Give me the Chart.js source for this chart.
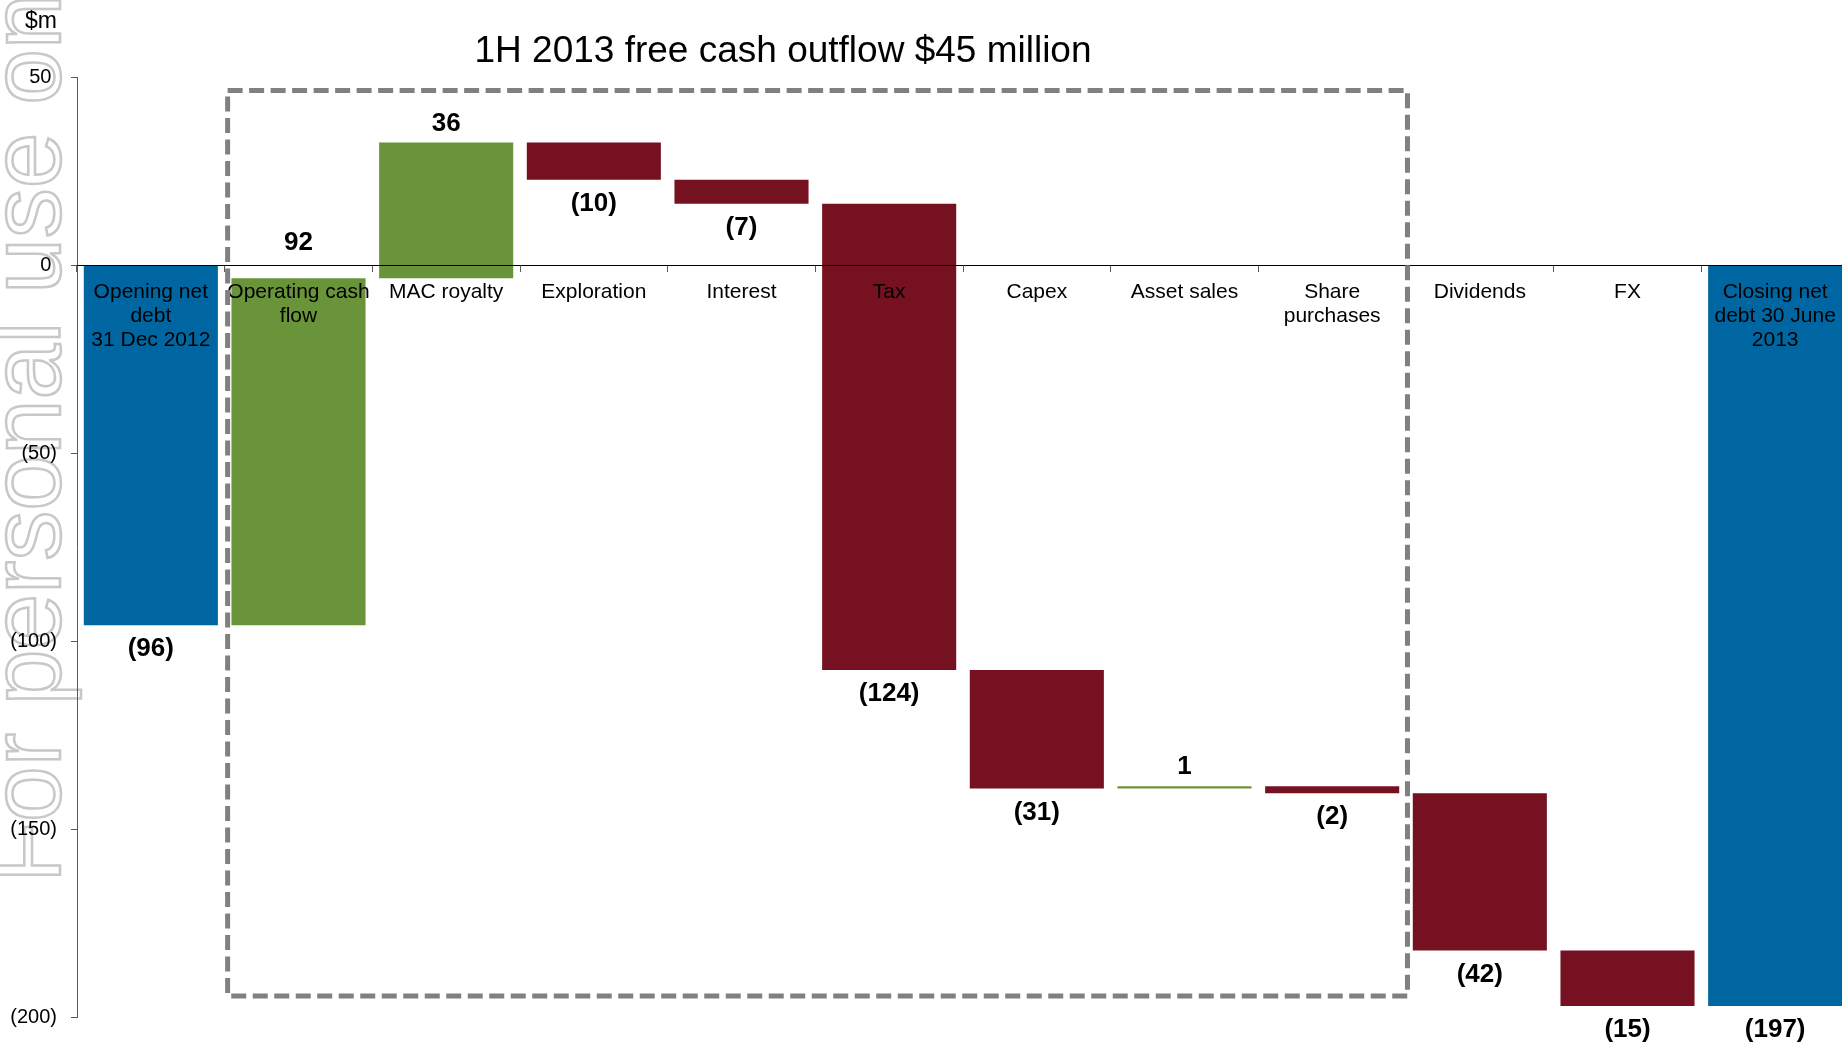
<!DOCTYPE html>
<html>
<head>
<meta charset="utf-8">
<script src="https://cdn.jsdelivr.net/npm/chart.js@4.4.1/dist/chart.umd.min.js"></script>
<style>
  html, body { margin: 0; padding: 0; background: #ffffff; overflow: hidden; }
  #wrap { width: 1849px; height: 1043px; }
</style>
</head>
<body>
<div id="wrap"><canvas id="c" width="1849" height="1043"></canvas></div>
<script>
// ---- data ----
const categories = [
  ['Opening net', 'debt', '31 Dec 2012'],
  ['Operating cash', 'flow'],
  'MAC royalty',
  'Exploration',
  'Interest',
  'Tax',
  'Capex',
  'Asset sales',
  ['Share', 'purchases'],
  'Dividends',
  'FX',
  ['Closing net', 'debt 30 June', '2013']
];
const barStart = [0, -95.8, -3.5, 32.6, 22.7, 16.3, -107.7, -139.2, -138.6, -140.5, -182.3, 0];
const barEnd   = [-95.8, -3.5, 32.6, 22.7, 16.3, -107.7, -139.2, -138.6, -140.5, -182.3, -197.1, -197.1];
const valueLabels = [-96, 92, 36, -10, -7, -124, -31, 1, -2, -42, -15, -197];
const barKind = ['total', 'up', 'up', 'down', 'down', 'down', 'down', 'up', 'down', 'down', 'down', 'total'];
const yMin = -200, yMax = 50, yStep = 50;
const chartTitle = '1H 2013 free cash outflow $45 million';
const unitLabel = '$m';
const watermarkText = 'For personal use only';

// ---- styling ----
const FONT = '"Liberation Sans", Arial, Helvetica, sans-serif';
const kindColor = { total: '#0066a1', up: '#6a943a', down: '#761122' };
const fmt = v => v < 0 ? '(' + Math.abs(v) + ')' : String(v);
// free-cash-flow box (in scale units: category index / $m)
const BOX = { xFrom: 0.52, xTo: 8.51, yTop: 46.4, yBottom: -194.4 };

const overlay = {
  id: 'overlay',
  beforeDraw(chart) {
    const ctx = chart.ctx;
    ctx.save();
    ctx.translate(60, 883);
    ctx.rotate(-Math.PI / 2);
    ctx.font = '100px ' + FONT;
    ctx.textAlign = 'left';
    ctx.textBaseline = 'alphabetic';
    ctx.strokeStyle = '#c8c8c8';
    ctx.lineWidth = 2.5;
    ctx.strokeText(watermarkText, 0, 0);
    ctx.restore();
  },
  afterDatasetsDraw(chart) {
    const ctx = chart.ctx;
    const ys = chart.scales.y;
    const meta = chart.getDatasetMeta(0);
    const zero = ys.getPixelForValue(0);
    ctx.save();
    ctx.font = 'bold 26px ' + FONT;
    ctx.fillStyle = '#000';
    ctx.textAlign = 'center';
    ctx.textBaseline = 'middle';
    valueLabels.forEach((v, i) => {
      const el = meta.data[i];
      const hi = ys.getPixelForValue(Math.max(barStart[i], barEnd[i]));
      const lo = ys.getPixelForValue(Math.min(barStart[i], barEnd[i]));
      if (v >= 0) {
        // a rise ending just under the zero line is labelled above the axis
        const anchor = (hi > zero && hi - zero < 40) ? zero - 3 : hi;
        ctx.fillText(fmt(v), el.x, anchor - 19);
      } else {
        ctx.fillText(fmt(v), el.x, lo + 24);
      }
    });
    ctx.restore();
  },
  afterDraw(chart) {
    const ctx = chart.ctx;
    const xs = chart.scales.x, ys = chart.scales.y;
    // dashed box
    const x1 = xs.getPixelForValue(BOX.xFrom), x2 = xs.getPixelForValue(BOX.xTo);
    const y1 = ys.getPixelForValue(BOX.yTop), y2 = ys.getPixelForValue(BOX.yBottom);
    ctx.save();
    ctx.strokeStyle = '#808080';
    ctx.lineWidth = 5;
    ctx.lineJoin = 'round';
    ctx.setLineDash([15, 6.5]);
    ctx.strokeRect(x1, y1, x2 - x1, y2 - y1);
    ctx.restore();
    // title
    ctx.save();
    ctx.fillStyle = '#000';
    ctx.font = '37px ' + FONT;
    ctx.textAlign = 'center';
    ctx.textBaseline = 'middle';
    ctx.fillText(chartTitle, 783, 52);
    // unit
    ctx.font = '23px ' + FONT;
    ctx.textAlign = 'right';
    ctx.fillText(unitLabel, ys.right - 20, 22);
    ctx.restore();
  }
};

new Chart(document.getElementById('c'), {
  type: 'bar',
  data: {
    labels: categories,
    datasets: [{
      data: barStart.map((s, i) => [s, barEnd[i]]),
      backgroundColor: barKind.map(k => kindColor[k]),
      borderWidth: 0,
      barPercentage: 0.908,
      categoryPercentage: 1
    }]
  },
  options: {
    responsive: false,
    animation: false,
    devicePixelRatio: 1,
    layout: { padding: { top: 77, bottom: 24, left: 0, right: 0 } },
    plugins: { legend: { display: false }, tooltip: { enabled: false }, title: { display: false } },
    scales: {
      x: {
        type: 'category',
        position: { y: 0 },
        offset: true,
        grid: { display: true, drawOnChartArea: false, drawTicks: true, tickLength: 6, offset: true, color: '#595959', lineWidth: 1, z: 1 },
        border: { display: true, color: '#000', width: 1, z: 1 },
        ticks: {
          z: 1,
          color: '#000',
          font: { family: FONT, size: 21, lineHeight: 1.15 },
          padding: 9,
          autoSkip: false,
          maxRotation: 0,
          minRotation: 0
        }
      },
      y: {
        min: yMin,
        max: yMax,
        afterFit(scale) { scale.width = 77; },
        grid: { display: true, drawOnChartArea: false, drawTicks: true, tickLength: 6, color: '#595959', lineWidth: 1 },
        border: { display: true, color: '#595959', width: 1 },
        ticks: {
          stepSize: yStep,
          color: '#000',
          padding: 14,
          font: { family: FONT, size: 20 },
          callback: v => v < 0 ? '(' + Math.abs(v) + ')' : v + ' '
        }
      }
    }
  },
  plugins: [overlay]
});
</script>
</body>
</html>
